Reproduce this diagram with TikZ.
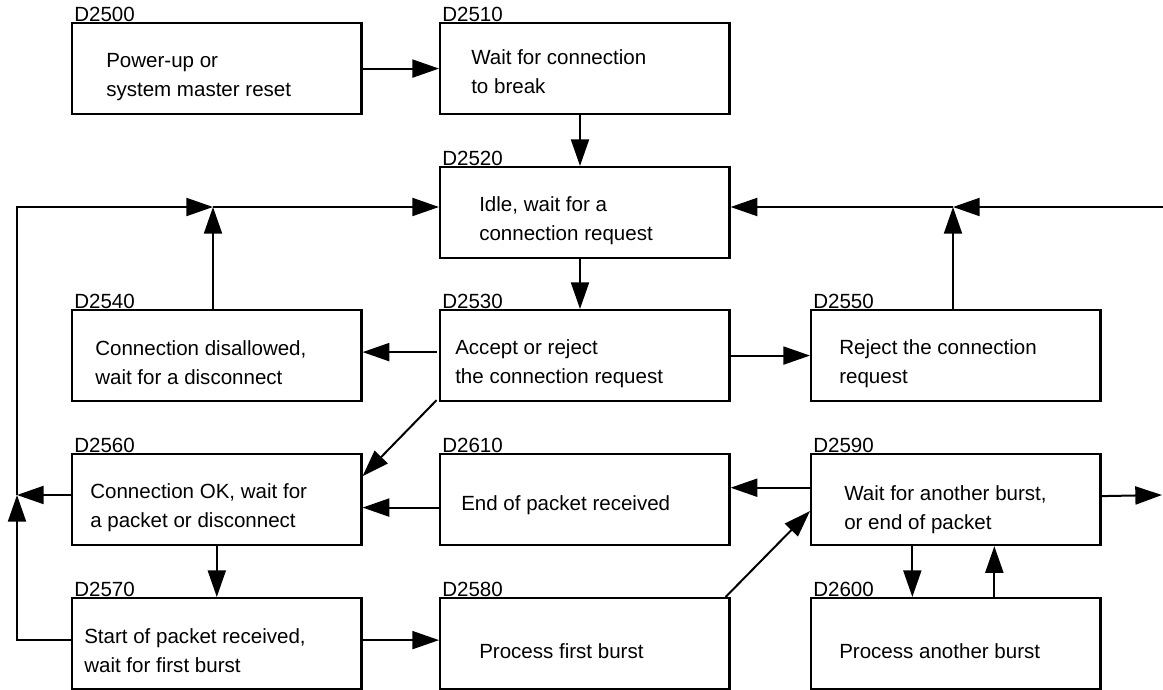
\documentclass[tikz,border=0pt]{standalone}
\usepackage{fontspec}
\setmainfont{Liberation Sans}
\usetikzlibrary{arrows.meta}
% two left-aligned lines; the baseline of the result is that of the first line
\newcommand{\twoln}[2]{\vtop{\baselineskip=22.1pt\hbox{#1}\hbox{#2}}}

\begin{document}
\begin{tikzpicture}[x=0.75pt,y=-0.75pt,
  box/.style={draw,line width=1.6pt,rectangle,inner sep=0pt,
    minimum width=217.1pt,minimum height=68.25pt,anchor=north west},
  lbl/.style={anchor=base west,inner sep=0pt,font=\fontsize{15.4pt}{18pt}\selectfont},
  txt/.style={anchor=base west,inner sep=0pt,font=\fontsize{15.4pt}{22.1pt}\selectfont},
  arr/.style={line width=1.5pt,-{Triangle[length=20pt,width=13.5pt]}},
  ln/.style={line width=1.5pt}]

\useasboundingbox (0,0) rectangle (1163,689);

% state boxes
\node[box] (d2500) at (71,22)  {};
\node[box] (d2510) at (439,22) {};
\node[box] (d2520) at (439,166) {};
\node[box] (d2540) at (71,309) {};
\node[box] (d2530) at (439,309) {};
\node[box] (d2550) at (810,309) {};
\node[box] (d2560) at (71,453) {};
\node[box] (d2610) at (439,453) {};
\node[box] (d2590) at (810,453) {};
\node[box] (d2570) at (71,597) {};
\node[box] (d2580) at (439,597) {};
\node[box] (d2600) at (810,597) {};

% reference numbers
\node[lbl] (l2500) at (74,21.5)  {D2500};
\node[lbl] (l2510) at (442,21.5) {D2510};
\node[lbl] (l2520) at (442,165.5) {D2520};
\node[lbl] (l2540) at (74,308.5) {D2540};
\node[lbl] (l2530) at (442,308.5) {D2530};
\node[lbl] (l2550) at (813,308.5) {D2550};
\node[lbl] (l2560) at (74,452.5) {D2560};
\node[lbl] (l2610) at (442,452.5) {D2610};
\node[lbl] (l2590) at (813,452.5) {D2590};
\node[lbl] (l2570) at (74,596.5) {D2570};
\node[lbl] (l2580) at (442,596.5) {D2580};
\node[lbl] (l2600) at (813,596.5) {D2600};

% state descriptions
\node[txt] (t2500) at (106,67)  {\twoln{Power-up or}{system master reset}};
\node[txt] (t2510) at (471,64)  {\twoln{Wait for connection}{to break}};
\node[txt] (t2520) at (479,211) {\twoln{Idle, wait for a}{connection request}};
\node[txt] (t2540) at (95,355)  {\twoln{Connection disallowed,}{wait for a disconnect}};
\node[txt] (t2530) at (455,354) {\twoln{Accept or reject}{the connection request}};
\node[txt] (t2550) at (839,354) {\twoln{Reject the connection}{request}};
\node[txt] (t2560) at (90,498)  {\twoln{Connection OK, wait for}{a packet or disconnect}};
\node[txt] (t2610) at (461,510) {End of packet received};
\node[txt] (t2590) at (844,500) {\twoln{Wait for another burst,}{or end of packet}};
\node[txt] (t2570) at (84,643)  {\twoln{Start of packet received,}{wait for first burst}};
\node[txt] (t2580) at (479,658) {Process first burst};
\node[txt] (t2600) at (839,658) {Process another burst};

% junctions and free ends
\coordinate (xm) at (580,0);
\coordinate (ja) at (213,207);
\coordinate (jb) at (953,207);
\coordinate (re) at (1163,207);
\coordinate (jt) at (17,207);
\coordinate (jl) at (17,495);
\coordinate (lb) at (17,640);
\coordinate (ro) at (1162,495);

% connectors
\draw[arr] (d2500.east) -- (d2510.west);
\draw[arr] (d2510.south -| xm) -- (d2520.north -| xm);
\draw[arr] (d2520.south -| xm) -- (d2530.north -| xm);

% return path on the left
\draw[arr] (lb -| d2570.west) -- (lb) -- (jl);
\draw[arr] (d2560.west |- jl) -- (jl);
\draw[arr] (jl) -- (jt) -- (ja);
\draw[arr] (ja |- d2540.north) -- (ja);
\draw[arr] (ja) -- (d2520.west |- ja);

% return path on the right
\draw[arr] (re) -- (jb);
\draw[arr] (jb |- d2550.north) -- (jb);
\draw[arr] (jb) -- (d2520.east |- jb);

\draw[arr] ([xshift=-1.8pt,yshift=2.6pt]d2530.west) -- ([yshift=2.6pt]d2540.east);
\draw[arr] (d2530.east) -- (d2550.west);
\draw[arr] ([xshift=-1.8pt,yshift=1.5pt]d2530.south west) -- ([yshift=17.6pt]d2560.east);

\draw[arr] ([yshift=-6pt]d2610.west) -- ([yshift=-6pt]d2560.east);
\draw[arr] ([yshift=8.9pt]d2590.west) -- ([yshift=8.9pt]d2610.east);
\draw[arr] ([xshift=-3.75pt]d2580.north east) -- ([yshift=-8.6pt]d2590.west);
\draw[arr] ([yshift=2.6pt]d2590.east) -- (ro);
\draw[arr] ([xshift=-32.6pt]d2590.south) -- ([xshift=-32.6pt]d2600.north);
\draw[arr] ([xshift=28.9pt]d2600.north) -- ([xshift=28.9pt]d2590.south);
\draw[arr] (d2560.south) -- (d2570.north);
\draw[arr] ([yshift=2.6pt]d2570.east) -- ([yshift=2.6pt]d2580.west);

\end{tikzpicture}
\end{document}
